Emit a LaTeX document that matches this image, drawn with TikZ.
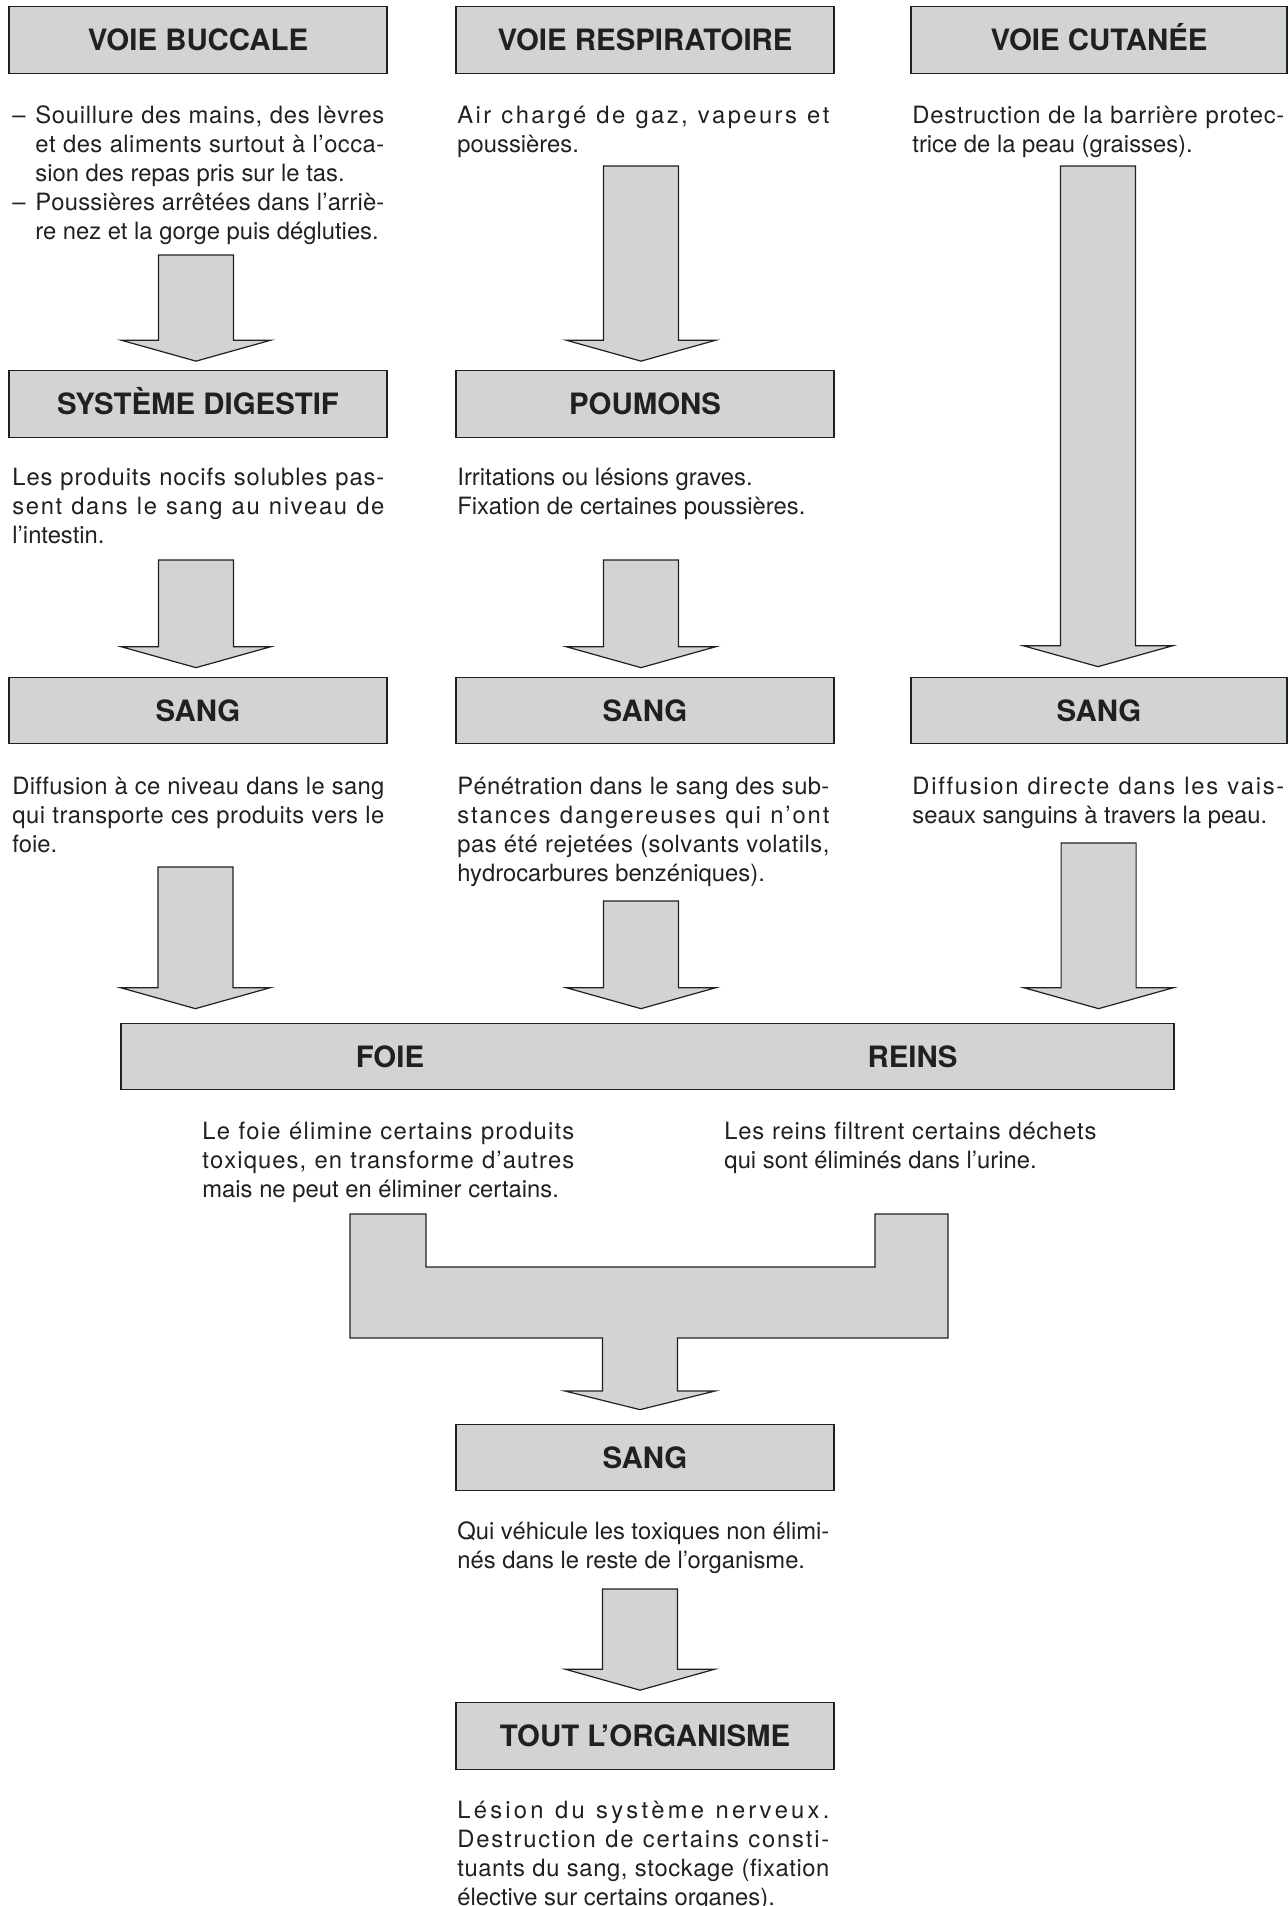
\documentclass[tikz,border=0pt]{standalone}
\usepackage{fontspec}
\setmainfont{TeX Gyre Heros}
\usetikzlibrary{calc}
\setlength{\parindent}{0pt}
\frenchspacing

\definecolor{boxfill}{RGB}{209,211,212}
\definecolor{boxline}{RGB}{35,31,32}
\definecolor{ink}{RGB}{35,31,32}
\XeTeXinterchartoks 0 0 = {\hskip 0pt plus 1fil\relax}
\newcommand{\notefont}{\fontsize{11.9}{14.45}\selectfont}
\newcommand{\headfont}{\fontsize{14.7}{16}\selectfont\bfseries}
\newcommand{\jline}[1]{\hbox to 186pt{\XeTeXinterchartokenstate=1
  \spaceskip=.278em plus 1.5fil minus .07em\relax#1}}
\newcommand{\jlinein}[1]{\hbox to 174.5pt{\XeTeXinterchartokenstate=1
  \spaceskip=.278em plus 1.5fil minus .07em\relax#1}}
\newcommand{\tiret}{\makebox[11.5pt][l]{–}}
\newcommand{\retrait}{\hspace*{11.5pt}}
\newcommand{\blockarrow}[2]{%
  \draw[bigarrow] let \p1=(#1), \p2=(#2) in
    (\x2-18.75pt,\y1) -- (\x2+18.75pt,\y1) -- (\x2+18.75pt,\y2+10.5pt) -- (\x2+37.5pt,\y2+10.5pt)
    -- (\x2,\y2) -- (\x2-37.5pt,\y2+10.5pt) -- (\x2-18.75pt,\y2+10.5pt) -- cycle;}

\begin{document}
\begin{tikzpicture}[x=0.5pt, y=-0.5pt, text=ink,
    headbox/.style={draw=boxline, fill=boxfill, line width=0.6pt, minimum width=189pt,
      minimum height=33.25pt, inner sep=0pt, font=\headfont, text height=10.6pt, text depth=0pt},
    headlbl/.style={inner sep=0pt, font=\headfont, text height=10.6pt, text depth=0pt},
    note/.style={anchor=north west, inner sep=0pt, align=left, font=\notefont},
    bigarrow/.style={draw=boxline, fill=boxfill, line width=0.6pt}]
  \useasboundingbox (0,0) rectangle (1288,1906);

  % three routes
  \node[headbox] (buccale) at (198,40) {VOIE BUCCALE};
  \node[headbox] (respir) at (645,40) {VOIE RESPIRATOIRE};
  \node[headbox, minimum width=188pt] (cutanee) at (1099,40) {VOIE CUTANÉE};

  \node[note] (noteBuccale) at (12,102.8) {\strut\tiret\jlinein{Souillure des mains, des lèvres}\\
    \retrait\jlinein{et des aliments surtout à l’occa-}\\
    \retrait sion des repas pris sur le tas.\\
    \tiret\jlinein{Poussières arrêtées dans l’arriè-}\\
    \retrait re nez et la gorge puis dégluties.};
  \node[note] (noteRespir) at (457,102.8) {\strut\jline{Air chargé de gaz, vapeurs et}\\poussières.};
  \node[note] (noteCutanee) at (912,102.8) {\strut\jline{Destruction de la barrière protec-}\\trice de la peau (graisses).};

  \node[headbox] (digestif) at (198,404) {SYSTÈME DIGESTIF};
  \node[headbox] (poumons) at (645,404) {POUMONS};

  \node[note] (noteDigestif) at (12,464.8) {\strut\jline{Les produits nocifs solubles pas-}\\
    \jline{sent dans le sang au niveau de}\\l’intestin.};
  \node[note] (notePoumons) at (457,464.8) {\strut Irritations ou lésions graves.\\Fixation de certaines poussières.};

  \node[headbox] (sangA) at (198,710.5) {SANG};
  \node[headbox] (sangB) at (645,710.5) {SANG};
  \node[headbox, minimum width=188pt] (sangC) at (1099,710.5) {SANG};

  \node[note] (noteSangA) at (12,773.8) {\strut\jline{Diffusion à ce niveau dans le sang}\\
    \jline{qui transporte ces produits vers le}\\foie.};
  \node[note] (noteSangB) at (457,773.8) {\strut\jline{Pénétration dans le sang des sub-}\\
    \jline{stances dangereuses qui n’ont}\\
    \jline{pas été rejetées (solvants volatils,}\\hydrocarbures benzéniques).};
  \node[note] (noteSangC) at (912,773.8) {\strut\jline{Diffusion directe dans les vais-}\\seaux sanguins à travers la peau.};

  % liver and kidneys
  \node[headbox, minimum width=526.5pt] (foie) at (647.5,1056.5) {};
  \node[headlbl] (foieLbl) at (390,1056.5) {FOIE};
  \node[headlbl] (reinsLbl) at (912.5,1056.5) {REINS};

  \node[note] (noteFoie) at (202,1118.8) {\strut\jline{Le foie élimine certains produits}\\
    \jline{toxiques, en transforme d’autres}\\mais ne peut en éliminer certains.};
  \node[note] (noteReins) at (724,1118.8) {\strut\jline{Les reins filtrent certains déchets}\\qui sont éliminés dans l’urine.};

  \node[headbox] (sangD) at (645,1457.5) {SANG};
  \node[note] (noteSangD) at (457,1518.8) {\strut\jline{Qui véhicule les toxiques non élimi-}\\nés dans le reste de l’organisme.};

  \node[headbox] (organisme) at (645,1736) {TOUT L’ORGANISME};
  \node[note] (noteOrganisme) at (457,1797.8) {\strut\jline{Lésion du système nerveux.}\\
    \jline{Destruction de certains consti-}\\
    \jline{tuants du sang, stockage (fixation}\\élective sur certains organes).};

  % block arrows
  \coordinate (a1) at (196,255);
  \coordinate (a2) at (641,166);
  \coordinate (a3) at (1098,166);
  \coordinate (a4) at (196,560);
  \coordinate (a5) at (641,560);
  \coordinate (a6) at (196,867);
  \coordinate (a7) at (641,901);
  \coordinate (a8) at (1098,843);
  \coordinate (a9) at (640,1589);
  \blockarrow{a1}{$(digestif.north)+(-2,-9)$}
  \blockarrow{a2}{$(poumons.north)+(-4,-9)$}
  \blockarrow{a3}{$(sangC.north)+(-1,-10)$}
  \blockarrow{a4}{$(sangA.north)+(-2,-9)$}
  \blockarrow{a5}{$(sangB.north)+(-4,-9)$}
  \blockarrow{a6}{$(foie.north west)+(75,-14)$}
  \blockarrow{a7}{$(foie.north)+(-6.5,-14)$}
  \blockarrow{a8}{$(foie.north east)+(-76,-14)$}
  \blockarrow{a9}{$(organisme.north)+(-5,-12)$}

  \draw[bigarrow] (350,1214) -- (426,1214) -- (426,1267) -- (875,1267) -- (875,1214)
    -- (948,1214) -- (948,1338) -- (677.5,1338) -- (677.5,1391) -- (715,1391)
    -- ($(sangD.north)+(-5,-14)$) -- (565,1391) -- (602.5,1391) -- (602.5,1338)
    -- (350,1338) -- cycle;
\end{tikzpicture}
\end{document}
